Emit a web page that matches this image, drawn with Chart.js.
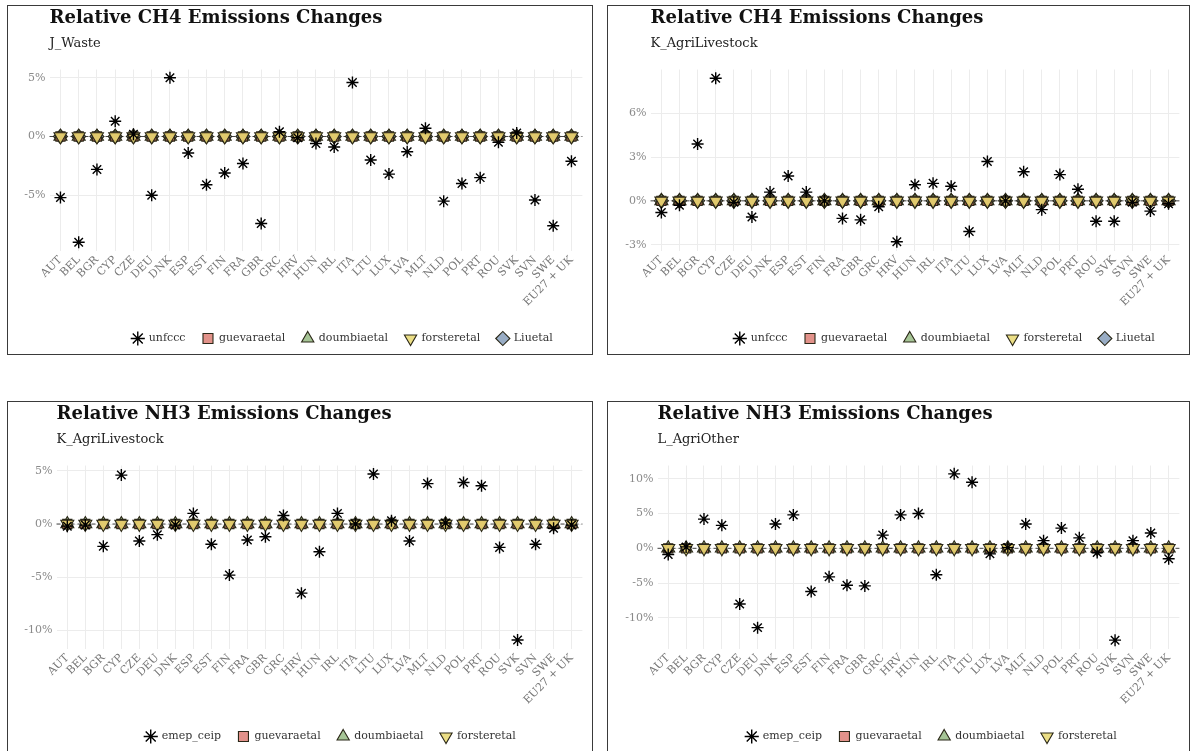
<!DOCTYPE html>
<html>
<head>
<meta charset="utf-8">
<script src="https://cdn.jsdelivr.net/npm/chart.js@4.4.1/dist/chart.umd.min.js"></script>
<style>
  body { margin: 0; background: #fff; width: 1190px; height: 751px; overflow: hidden; position: relative; }
  .panel { position: absolute; border: 1.5px solid #3a3a3a; box-sizing: border-box; background: #fff; }
  .panel canvas { position: absolute; left: 0; top: 0; }
</style>
</head>
<body>
<div class="panel" style="left:7px;top:5px;width:586px;height:350px"><canvas id="p1" width="583" height="347"></canvas></div>
<div class="panel" style="left:607px;top:5px;width:583px;height:350px"><canvas id="p2" width="580" height="347"></canvas></div>
<div class="panel" style="left:7px;top:401px;width:586px;height:352px"><canvas id="p3" width="583" height="349"></canvas></div>
<div class="panel" style="left:607px;top:401px;width:583px;height:352px"><canvas id="p4" width="580" height="349"></canvas></div>
<script>
const countries = ["AUT", "BEL", "BGR", "CYP", "CZE", "DEU", "DNK", "ESP", "EST", "FIN", "FRA", "GBR", "GRC", "HRV", "HUN",
  "IRL", "ITA", "LTU", "LUX", "LVA", "MLT", "NLD", "POL", "PRT", "ROU", "SVK", "SVN", "SWE", "EU27 + UK"];

// reported inventories, relative change in %
const ch4WasteUnfccc = [-5.2, -9.0, -2.8, 1.3, 0.2, -5.0, 5.0, -1.4, -4.1, -3.1, -2.3, -7.4, 0.4, -0.1, -0.6,
  -0.9, 4.6, -2.0, -3.2, -1.3, 0.7, -5.5, -4.0, -3.5, -0.5, 0.3, -5.4, -7.6, -2.1];
const ch4LivestockUnfccc = [-0.8, -0.3, 3.9, 8.4, -0.1, -1.1, 0.6, 1.7, 0.6, 0.0, -1.2, -1.3, -0.4, -2.8, 1.1,
  1.2, 1.0, -2.1, 2.7, 0.0, 2.0, -0.6, 1.8, 0.8, -1.4, -1.4, -0.1, -0.7, -0.2];
const nh3LivestockEmep = [-0.2, -0.1, -2.1, 4.6, -1.6, -1.0, -0.1, 1.0, -1.9, -4.8, -1.5, -1.2, 0.8, -6.5, -2.6,
  1.0, 0.0, 4.7, 0.3, -1.6, 3.8, 0.1, 3.9, 3.6, -2.2, -10.9, -1.9, -0.4, -0.1];
const nh3OtherEmep = [-0.9, 0.2, 4.2, 3.3, -8.0, -11.4, 3.5, 4.8, -6.2, -4.1, -5.3, -5.4, 1.9, 4.8, 5.0,
  -3.8, 10.7, 9.5, -0.8, 0.1, 3.5, 1.1, 2.9, 1.5, -0.6, -13.2, 1.1, 2.2, -1.5];

// the model studies show no change for any country
const modelChange = [0, 0, 0, 0, 0, 0, 0, 0, 0, 0, 0, 0, 0, 0, 0, 0, 0, 0, 0, 0, 0, 0, 0, 0, 0, 0, 0, 0, 0];

const SERIF = "DejaVu Serif";

const MODEL_STYLES = {
  guevaraetal: { pointStyle: "rect", color: "rgba(214,100,88,0.7)", radius: 6.5, order: 2 },
  doumbiaetal: { pointStyle: "triangle", color: "rgba(128,172,105,0.7)", radius: 7.5, order: 3 },
  forsteretal: { pointStyle: "triangle", rotation: 180, color: "rgba(232,216,112,0.85)", radius: 7.5, order: 1 },
  Liuetal: { pointStyle: "rectRot", color: "rgba(110,138,172,0.7)", radius: 7, order: 4 },
};

const zeroLine = {
  id: "zeroLine",
  beforeDatasetsDraw(chart) {
    const { ctx, chartArea: a, scales: { y } } = chart;
    const py = y.getPixelForValue(0);
    ctx.save();
    ctx.strokeStyle = "#444";
    ctx.lineWidth = 1;
    ctx.setLineDash([4, 3]);
    ctx.beginPath();
    ctx.moveTo(a.left, py);
    ctx.lineTo(a.right, py);
    ctx.stroke();
    ctx.restore();
  }
};

// move the legend to where ggplot put it
const legendPlace = {
  id: "legendPlace",
  afterLayout(chart, args, opts) {
    const lg = chart.legend;
    const dx = opts.cx - (lg.left + lg.right) / 2;
    lg.left += dx; lg.right += dx;
    const lo = lg.options.labels;
    const dy = opts.cy - (lg.top + lo.padding + lo.font.size / 2);
    lg.top += dy; lg.bottom += dy;
  }
};

function panel(id, title, subtitle, refLabel, refValues, models, yMin, yMax, yTicks, box) {
  const datasets = [{
    label: refLabel,
    data: refValues.map((v, i) => ({ x: i, y: v })),
    pointStyle: "star", pointRadius: 6, borderColor: "#000", backgroundColor: "#000", borderWidth: 1.4, order: 0,
  }];
  models.forEach(name => {
    const s = MODEL_STYLES[name];
    datasets.push({
      label: name,
      data: modelChange.map((v, i) => ({ x: i, y: v })),
      pointStyle: s.pointStyle, rotation: s.rotation || 0, pointRadius: s.radius,
      backgroundColor: s.color, borderColor: "#2b2818", borderWidth: 1.1, order: s.order,
    });
  });

  return new Chart(document.getElementById(id), {
    type: "scatter",
    data: { datasets },
    plugins: [zeroLine, legendPlace],
    options: {
      responsive: false,
      animation: false,
      layout: { padding: { left: 0, right: box.padR, top: 0, bottom: 0 } },
      scales: {
        x: {
          type: "linear", min: -0.6, max: 28.6,
          afterBuildTicks: s => { s.ticks = countries.map((c, i) => ({ value: i })); },
          afterFit: s => { s.height = 64.5; },
          grid: { color: "#ececec", drawTicks: false },
          border: { display: false },
          ticks: {
            autoSkip: false, minRotation: 45, maxRotation: 45, padding: 3, color: "#777",
            font: { family: SERIF, size: 11 }, callback: v => countries[v],
          },
        },
        y: {
          min: yMin, max: yMax,
          afterBuildTicks: s => { s.ticks = yTicks.map(v => ({ value: v })); },
          afterFit: s => { s.width = box.yWidth; },
          grid: { color: "#ececec", drawTicks: false },
          border: { display: false },
          ticks: { padding: 4, color: "#8a8a8a", font: { family: SERIF, size: 11 }, callback: v => v + "%" },
        },
      },
      plugins: {
        title: {
          display: true, text: title, align: "start", fullSize: false, color: "#111",
          font: { family: SERIF, size: 18, weight: "bold" }, padding: { top: 2, bottom: 4 },
        },
        subtitle: {
          display: true, text: subtitle, align: "start", fullSize: false, color: "#222",
          font: { family: SERIF, size: 13 }, padding: { top: 2, bottom: 18.3 },
        },
        legend: {
          position: "bottom",
          labels: {
            usePointStyle: true, boxWidth: 11, boxHeight: 10, padding: 17, color: "#333",
            font: { family: SERIF, size: 11 },
            sort: (a, b) => a.datasetIndex - b.datasetIndex,
          },
        },
        tooltip: { enabled: false },
        legendPlace: { cx: box.cx, cy: box.cy },
      },
    },
  });
}

const CH4_MODELS = ["guevaraetal", "doumbiaetal", "forsteretal", "Liuetal"];
const NH3_MODELS = ["guevaraetal", "doumbiaetal", "forsteretal"];

panel("p1", "Relative CH4 Emissions Changes", "J_Waste", "unfccc", ch4WasteUnfccc, CH4_MODELS,
  -9.7, 5.7, [-5, 0, 5], { yWidth: 41.5, padR: 3.5, cx: 334.5, cy: 332.5 });
panel("p2", "Relative CH4 Emissions Changes", "K_AgriLivestock", "unfccc", ch4LivestockUnfccc, CH4_MODELS,
  -3.4, 9.0, [-3, 0, 3, 6], { yWidth: 42.5, padR: 1.5, cx: 336.5, cy: 332.5 });
panel("p3", "Relative NH3 Emissions Changes", "K_AgriLivestock", "emep_ceip", nh3LivestockEmep, NH3_MODELS,
  -11.7, 5.5, [-10, -5, 0, 5], { yWidth: 48.5, padR: 4.5, cx: 322.5, cy: 334.5 });
panel("p4", "Relative NH3 Emissions Changes", "L_AgriOther", "emep_ceip", nh3OtherEmep, NH3_MODELS,
  -14.4, 11.9, [-10, -5, 0, 5, 10], { yWidth: 49.5, padR: 1.5, cx: 323.5, cy: 334.5 });
</script>
</body>
</html>
